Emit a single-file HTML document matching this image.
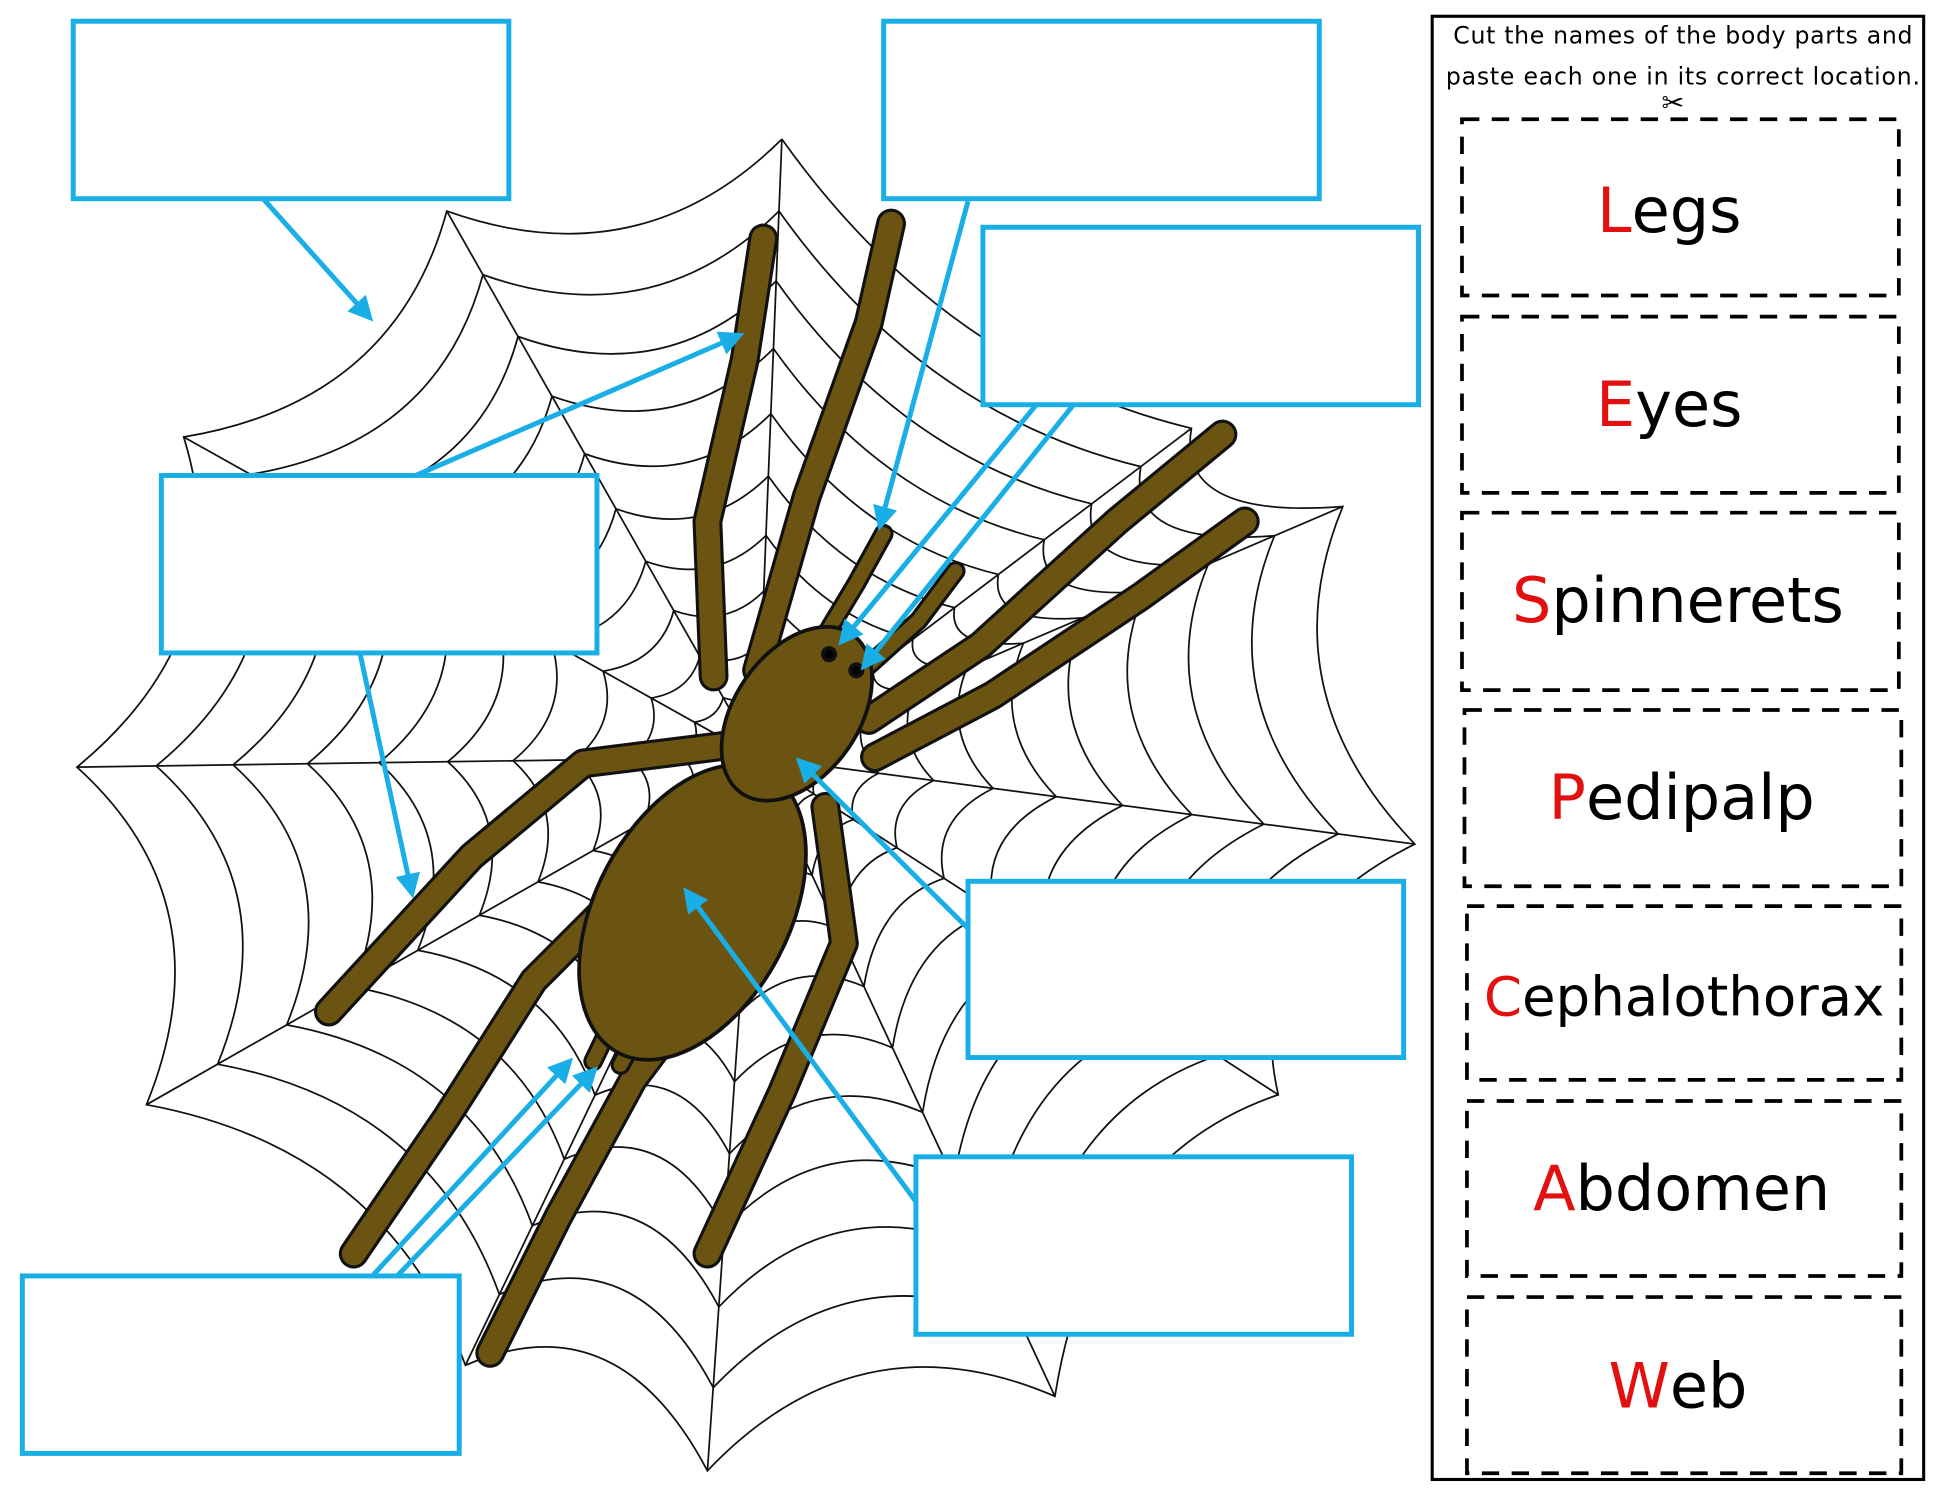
<!DOCTYPE html>
<html><head><meta charset="utf-8"><style>
html,body{margin:0;padding:0;background:#fff;width:1946px;height:1497px;overflow:hidden}
svg{display:block}
.lbl{font-family:"DejaVu Sans","Liberation Sans",sans-serif;font-size:50px;text-anchor:middle}
</style></head><body>
<svg id="s" width="1946" height="1497" viewBox="0 0 1568 1206" xmlns="http://www.w3.org/2000/svg">
<defs>
<marker id="ah" markerWidth="5" markerHeight="5" refX="4" refY="2.5" orient="auto" markerUnits="strokeWidth"><path d="M0,0 L5,2.5 L0,5 z" fill="#1aaee6"/></marker>
</defs>
<g id="web" stroke="#111" stroke-width="1.4" fill="none"></g>
<g id="spider" stroke="#111" stroke-width="3" fill="#6b5412" stroke-linejoin="round" stroke-linecap="round">
<g id="legs"></g>
<ellipse cx="558" cy="735" rx="78" ry="128" transform="rotate(28 558 735)"/>
<ellipse cx="642" cy="575" rx="50" ry="78" transform="rotate(35 642 575)"/>
<circle cx="668" cy="527" r="5" fill="#000"/><circle cx="690" cy="540" r="5" fill="#000"/>
</g>
<g stroke="#1aaee6" stroke-width="4" fill="#fff">
<rect x="59" y="17" width="351" height="143"/>
<rect x="712" y="17" width="351" height="143"/>
<rect x="792" y="183" width="351" height="143"/>
<rect x="130" y="383" width="351" height="143"/>
<rect x="780" y="710" width="351" height="142"/>
<rect x="738" y="932" width="351" height="143"/>
<rect x="18" y="1028" width="352" height="143"/>
</g>
<g stroke="#1aaee6" stroke-width="4" fill="none" marker-end="url(#ah)">
<line x1="212" y1="160" x2="298" y2="256"/>
<line x1="335" y1="383" x2="596" y2="270"/>
<line x1="780" y1="162" x2="709" y2="424"/>
<line x1="835" y1="326" x2="678" y2="517"/>
<line x1="865" y1="326" x2="696" y2="537"/>
<line x1="290" y1="526" x2="332" y2="720"/>
<line x1="780" y1="748" x2="644" y2="613"/>
<line x1="738" y1="968" x2="553" y2="718"/>
<line x1="300" y1="1028" x2="459" y2="855"/>
<line x1="320" y1="1028" x2="479" y2="862"/>
</g>
<rect x="1154" y="13" width="396" height="1179" fill="none" stroke="#000" stroke-width="2.5"/>
<text x="1356" y="35" font-family="DejaVu Sans,sans-serif" font-size="19" text-anchor="middle" textLength="370">Cut the names of the body parts and</text>
<text x="1356" y="68" font-family="DejaVu Sans,sans-serif" font-size="19" text-anchor="middle" textLength="382">paste each one in its correct location.</text>
<text x="1348" y="90" font-size="22" text-anchor="middle" font-family="DejaVu Sans,sans-serif">✂</text>
<g fill="none" stroke="#000" stroke-width="3" stroke-dasharray="14 10">
<rect x="1178" y="96" width="352" height="142"/>
<rect x="1178" y="255" width="352" height="142"/>
<rect x="1178" y="413" width="352" height="143"/>
<rect x="1180" y="572" width="352" height="142"/>
<rect x="1182" y="730" width="350" height="140"/>
<rect x="1182" y="887" width="350" height="141"/>
<rect x="1182" y="1045" width="350" height="142"/>
</g>
<text class="lbl" x="1345" y="187"><tspan fill="#e31010">L</tspan>egs</text>
<text class="lbl" x="1345" y="343"><tspan fill="#e31010">E</tspan>yes</text>
<text class="lbl" x="1352" y="501"><tspan fill="#e31010">S</tspan>pinnerets</text>
<text class="lbl" x="1355" y="660"><tspan fill="#e31010">P</tspan>edipalp</text>
<text class="lbl" x="1357" y="818" style="font-size:44px"><tspan fill="#e31010">C</tspan>ephalothorax</text>
<text class="lbl" x="1355" y="975"><tspan fill="#e31010">A</tspan>bdomen</text>
<text class="lbl" x="1352" y="1134"><tspan fill="#e31010">W</tspan>eb</text>
</svg>
<script>
var NS="http://www.w3.org/2000/svg";
var web=document.getElementById("web");
var C=[610,610];
var P=[[630,112],[360,170],[148,352],[62,618],[118,890],[375,1100],[570,1185],[850,1125],[1030,882],[1140,680],[1082,408],[960,345]];
function add(g,tag,a){var e=document.createElementNS(NS,tag);for(var k in a)e.setAttribute(k,a[k]);g.appendChild(e);return e;}
P.forEach(function(p){add(web,"line",{x1:C[0],y1:C[1],x2:p[0],y2:p[1]});});
var N=11;
for(var r=1;r<=N;r++){
 var f=Math.pow(r/N,1.3);
 var d="";
 for(var i=0;i<P.length;i++){
  var a=P[i],b=P[(i+1)%P.length];
  var ax=C[0]+(a[0]-C[0])*f,ay=C[1]+(a[1]-C[1])*f,bx=C[0]+(b[0]-C[0])*f,by=C[1]+(b[1]-C[1])*f;
  var mx=(ax+bx)/2,my=(ay+by)/2;
  var cx=mx+(C[0]-mx)*0.18,cy=my+(C[1]-my)*0.18;
  d+=(i==0?"M"+ax+","+ay:"")+" Q"+cx+","+cy+" "+bx+","+by;
 }
 add(web,"path",{d:d});
}
var legs=document.getElementById("legs");
var L=[
 [[575,545],[570,420],[600,290],[615,192]],
 [[610,540],[650,400],[700,260],[718,180]],
 [[700,580],[790,520],[900,420],[985,350]],
 [[705,610],[800,560],[920,480],[1003,420]],
 [[590,600],[470,615],[380,690],[265,815]],
 [[520,700],[430,790],[360,900],[285,1010]],
 [[585,770],[510,870],[450,980],[395,1090]],
 [[665,650],[680,760],[630,880],[570,1010]],
 [[660,520],[690,470],[712,430]],
 [[690,545],[740,500],[770,460]],
 [[490,830],[478,855]],[[510,840],[500,858]]
];
L.forEach(function(l,i){
 var d="M"+l.map(function(p){return p.join(",")}).join(" L");
 var w=i<8?19:11;
 add(legs,"path",{d:d,fill:"none",stroke:"#111","stroke-width":w+5});
 add(legs,"path",{d:d,fill:"none",stroke:"#6b5412","stroke-width":w});
});
</script>
</body></html>
